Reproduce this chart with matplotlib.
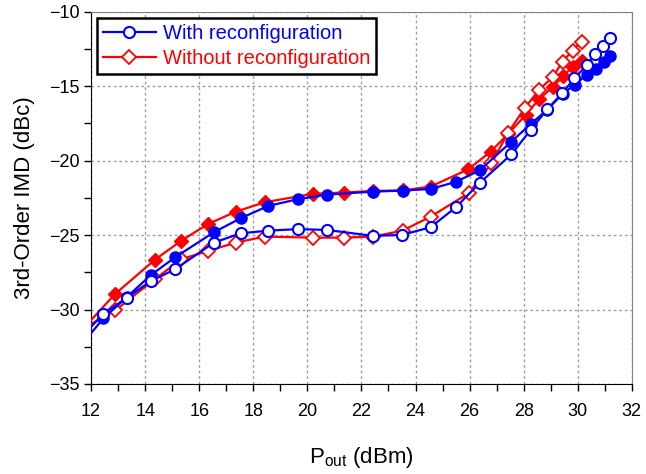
import matplotlib
matplotlib.use("Agg")
import matplotlib.pyplot as plt
from matplotlib.ticker import MultipleLocator

plt.rcParams['font.family'] = ['Liberation Sans', 'DejaVu Sans']
plt.rcParams['mathtext.fontset'] = 'custom'
plt.rcParams['mathtext.rm'] = 'Liberation Sans'

# With reconfiguration - filled circles
wf_x = [11.5, 12.45, 13.33, 14.2, 15.1, 16.55, 17.53, 18.55, 19.64, 20.71, 22.41, 23.52, 24.56,
        25.5, 26.37, 27.55, 28.26, 28.87, 29.44, 29.89, 30.33, 30.67, 30.98, 31.21]
wf_y = [-32.7, -30.6, -29.15, -27.7, -26.5, -24.8, -23.87, -23.04, -22.59, -22.28, -22.08, -22.01, -21.9,
        -21.42, -20.65, -18.72, -17.53, -16.59, -15.5, -14.9, -14.23, -13.82, -13.36, -12.94]
# With reconfiguration - open circles
wo_x = [11.5, 12.45, 13.33, 14.2, 15.1, 16.55, 17.53, 18.55, 19.64, 20.71, 22.41, 23.5, 24.56,
        25.5, 26.37, 27.55, 28.26, 28.87, 29.42, 29.88, 30.33, 30.65, 30.95, 31.21]
wo_y = [-32.1, -30.3, -29.2, -28.1, -27.3, -25.5, -24.88, -24.7, -24.6, -24.65, -25.05, -24.99, -24.47,
        -23.12, -21.5, -19.57, -17.93, -16.55, -15.48, -14.46, -13.6, -12.84, -12.28, -11.77]
# Without reconfiguration - filled diamonds
nf_x = [11.5, 12.88, 14.35, 15.34, 16.33, 17.36, 18.43, 20.2, 21.35, 22.44, 23.52, 24.56,
        25.96, 26.78, 27.43, 28.08, 28.57, 29.07, 29.46, 29.83, 30.14]
nf_y = [-31.7, -28.97, -26.67, -25.37, -24.25, -23.42, -22.79, -22.23, -22.14, -22.03, -22.0, -21.74,
        -20.57, -19.39, -18.2, -16.92, -15.87, -15.06, -14.3, -13.68, -13.27]
# Without reconfiguration - open diamonds
no_x = [11.5, 12.9, 14.35, 15.34, 16.33, 17.36, 18.43, 20.2, 21.35, 22.44, 23.52, 24.56,
        25.99, 26.81, 27.43, 28.04, 28.57, 29.07, 29.44, 29.81, 30.14]
no_y = [-31.5, -30.05, -27.97, -26.62, -26.06, -25.5, -25.1, -25.17, -25.17, -25.1, -24.7, -23.76,
        -22.16, -20.17, -18.11, -16.47, -15.24, -14.39, -13.34, -12.6, -12.0]

x_ticks = [12, 14, 16, 18, 20, 22, 24, 26, 28, 30, 32]
y_ticks = [-35, -30, -25, -20, -15, -10]

BLUE = '#0000FF'
RED = '#FF0000'

fig = plt.figure(figsize=(6.46, 4.74), dpi=100)
ax = fig.add_axes([0.141, 0.19, 0.837, 0.785])

lw = 1.6
ax.plot(nf_x, nf_y, color=RED, lw=lw, marker='D', ms=7, mfc=RED, mec=RED, zorder=3)
ax.plot(no_x, no_y, color=RED, lw=lw, marker='D', ms=7, mfc='white', mec=RED, mew=1.3, zorder=3,
        label='Without reconfiguration')
ax.plot(wf_x, wf_y, color=BLUE, lw=lw, marker='o', ms=8, mfc=BLUE, mec=BLUE, zorder=4)
ax.plot(wo_x, wo_y, color=BLUE, lw=lw, marker='o', ms=8, mfc='white', mec=BLUE, mew=1.5, zorder=4,
        label='With reconfiguration')

ax.set_xlim(12, 32)
ax.set_ylim(-35, -10)
ax.set_xticks(x_ticks)
ax.set_yticks(y_ticks)
ax.xaxis.set_minor_locator(MultipleLocator(1))
ax.yaxis.set_minor_locator(MultipleLocator(2.5))
ax.tick_params(which='both', direction='out', length=5, width=1, labelsize=13, color='black')
ax.tick_params(axis='x', pad=9)
ax.grid(True, which='major', color='#a0a0a0', linestyle=(0, (2, 2)), lw=1)

for s in ['top', 'right']:
    ax.spines[s].set_color('#808080')
for s in ['left', 'bottom']:
    ax.spines[s].set_color('black')

ax.set_xlabel(r'P$_{\mathregular{out}}$ (dBm)', fontsize=16, labelpad=18)
ax.set_ylabel('3rd-Order IMD (dBc)', fontsize=16, labelpad=10)

h, l = ax.get_legend_handles_labels()
leg = ax.legend(h[::-1], l[::-1], loc='upper left', bbox_to_anchor=(0.0, 1.0), fontsize=14.5,
                fancybox=False, framealpha=1, edgecolor='black', borderpad=0.3,
                handlelength=2.6, handletextpad=0.35, labelspacing=0.32, borderaxespad=0.3)
leg.get_frame().set_linewidth(1.8)
for t, c in zip(leg.get_texts(), [BLUE, RED]):
    t.set_color(c)

fig.savefig('out.png', dpi=100)
